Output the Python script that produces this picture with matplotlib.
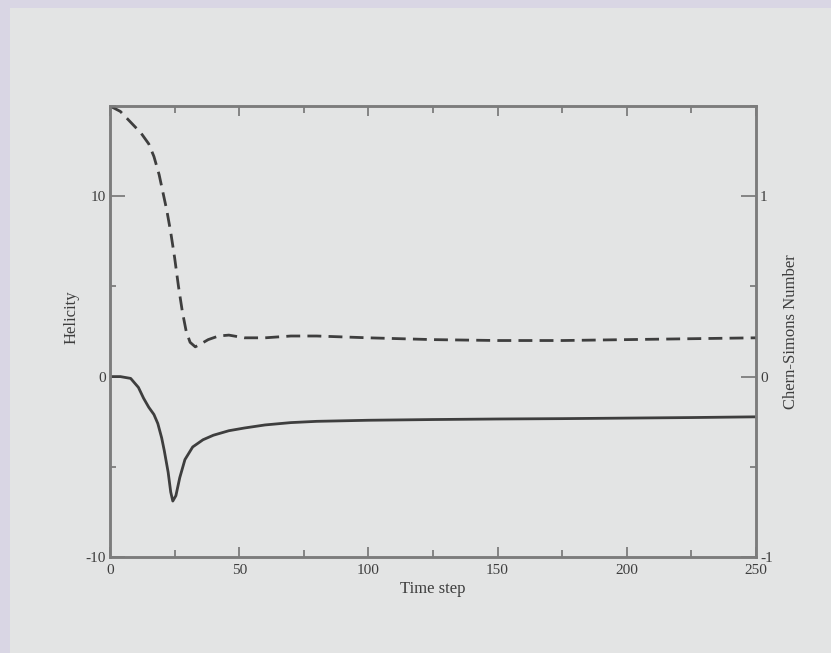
import numpy as np
import matplotlib
matplotlib.use("Agg")
import matplotlib.pyplot as plt
from matplotlib.patches import Rectangle
from matplotlib.ticker import MultipleLocator

# values
t_hel = [0, 4, 8, 11, 13, 15, 17, 18.5, 20, 21, 22.5, 23.5, 24.3, 25.5, 27, 29, 32, 36, 40,
         46, 52, 60, 70, 80, 100, 125, 150, 175, 200, 225, 250]
helicity = [0, 0, -0.1, -0.6, -1.2, -1.7, -2.1, -2.6, -3.4, -4.1, -5.3, -6.4, -6.9, -6.6, -5.6,
            -4.6, -3.9, -3.5, -3.25, -3.0, -2.85, -2.68, -2.55, -2.48, -2.42, -2.38, -2.35,
            -2.33, -2.3, -2.27, -2.23]
t_cs = [0, 4, 8, 12, 15, 17, 19, 20.5, 22, 23.5, 25, 26.5, 28, 29.5, 31, 33, 35, 38, 42, 46,
        52, 60, 70, 80, 100, 125, 150, 175, 200, 225, 250]
chern_simons = [1.50, 1.47, 1.41, 1.35, 1.29, 1.22, 1.12, 1.02, 0.92, 0.80, 0.66, 0.50, 0.36,
                0.25, 0.19, 0.165, 0.18, 0.205, 0.225, 0.23, 0.215, 0.215, 0.225, 0.225,
                0.215, 0.205, 0.20, 0.20, 0.205, 0.21, 0.215]

x_ticks = [0, 50, 100, 150, 200, 250]
left_ticks = [-10, 0, 10]
right_ticks = [-1, 0, 1]

plt.rcParams["font.family"] = ["Liberation Serif", "DejaVu Serif"]
plt.rcParams["axes.unicode_minus"] = False
AX = "#7c7c7c"
INK = "#3e3e3e"

fig = plt.figure(figsize=(8.31, 6.53), dpi=100)
fig.patch.set_facecolor("#d9d6e4")
fig.patches.append(Rectangle((10 / 831, 0), 1, 1 - 8 / 653, transform=fig.transFigure,
                             facecolor="#e3e4e4", edgecolor="none", zorder=-1))

# axes box: x 110..756, y 106..557 px
ax = fig.add_axes([110 / 831, 1 - 557 / 653, (756 - 110) / 831, (557 - 106) / 653])
ax.patch.set_alpha(0)
ax2 = ax.twinx()

ax.plot(t_hel, helicity, "-", color=INK, lw=2.0)
ax2.plot(t_cs, chern_simons, color=INK, lw=2.0, dashes=(5, 2.6))

ax.set_xlim(0, 250)
ax.set_ylim(-10, 15)
ax2.set_ylim(-1, 1.5)
ax.set_xticks(x_ticks)
ax.set_yticks(left_ticks)
ax2.set_yticks(right_ticks)
ax.xaxis.set_minor_locator(MultipleLocator(25))
ax.yaxis.set_minor_locator(MultipleLocator(5))
ax2.yaxis.set_minor_locator(MultipleLocator(0.5))

for a in (ax, ax2):
    for s in a.spines.values():
        s.set_color(AX)
        s.set_linewidth(1.8)
ax.tick_params(which="both", direction="in", color=AX, width=1.3, labelcolor=INK,
               labelsize=11, top=True, pad=3)
ax.tick_params(axis="y", which="major", length=10.5)
ax.tick_params(axis="y", which="minor", length=4.5)
ax.tick_params(axis="x", which="major", length=7, pad=5)
ax.tick_params(axis="x", which="minor", length=5)
ax.tick_params(axis="y", right=False)
ax2.tick_params(which="both", direction="in", color=AX, width=1.3, labelcolor=INK,
                labelsize=11, pad=3)
ax2.tick_params(which="major", length=10.5)
ax2.tick_params(which="minor", length=4.5)

ax.set_xlabel("Time step", fontsize=12, color=INK, labelpad=3)
ax.set_ylabel("Helicity", fontsize=12, color=INK, labelpad=6)
ax.yaxis.set_label_coords(-0.047, 0.532)
ax2.set_ylabel("Chern-Simons Number", fontsize=12, color=INK, labelpad=7)

fig.savefig("out.png", dpi=100, facecolor=fig.get_facecolor())
